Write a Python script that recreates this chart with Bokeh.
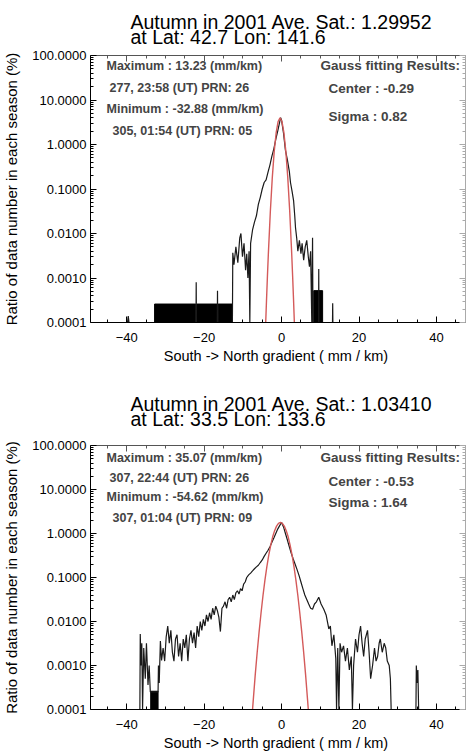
from bokeh.plotting import figure
from bokeh.layouts import column
from bokeh.models import (Range1d, FixedTicker, LinearAxis, LogAxis, Label, Title,
                          PrintfTickFormatter, CustomJSTickFormatter)
from bokeh.embed import file_html
from bokeh.resources import INLINE

FONT = "Liberation Sans"

# ---------------- data ----------------
x_ticks = [-40, -20, 0, 20, 40]
y_ticks = [0.0001, 0.001, 0.01, 0.1, 1.0, 10.0, 100.0]

# Panel 1 : Lat 42.7 Lon 141.6
p1_title = ["Autumn  in 2001  Ave. Sat.: 1.29952", "at  Lat:  42.7  Lon: 141.6"]
p1_info = ["Maximum : 13.23 (mm/km)", "277, 23:58 (UT) PRN: 26",
           "Minimum : -32.88 (mm/km)", "305, 01:54 (UT) PRN: 05"]
p1_gauss = ["Gauss fitting Results:", "Center : -0.29", "Sigma :  0.82"]
p1_x = [-49.4, -39.8, -39.6, -39.4, -32.9, -22.1, -22.05, -22.0, -16.6, -16.55, -16.5,
        -12.7, -12.6, -12.3, -11.8, -11.3, -10.8, -10.5, -10.1, -9.7, -9.3, -9.0, -8.7,
        -8.4, -8.2, -8.0, -7.5, -7.0, -6.5, -6.0, -5.5, -5.0, -4.5, -4.0, -3.5, -3.0,
        -2.5, -2.0, -1.5, -1.0, -0.5, -0.25, 0.0, 0.5, 1.0, 1.5, 2.0, 2.3, 2.7, 3.1,
        3.4, 3.6, 3.9, 4.2, 4.6, 5.0, 5.3, 5.7, 6.1, 6.5, 6.9, 7.2, 7.5, 7.8, 8.0, 8.1,
        9.55, 9.6, 9.65, 13.15, 13.2, 13.25, 47.5]
p1_y = [1e-4, 1e-4, 1.4e-4, 1e-4, 1e-4, 1e-4, 8e-4, 1e-4, 1e-4, 5.2e-4, 1e-4,
        1e-4, 3.7e-3, 2.0e-3, 5e-3, 2.2e-3, 8e-3, 1.0e-2, 3e-3, 6e-3, 1.5e-3, 3.5e-3, 1.0e-3,
        4e-3, 1e-4, 6e-3, 1.2e-2, 1.8e-2, 2.5e-2, 4.5e-2, 6.5e-2, 0.10, 0.14, 0.16, 0.24, 0.35,
        0.55, 0.8, 1.3, 2.0, 3.2, 4.0, 3.5, 1.8, 0.74, 0.45, 0.25, 0.14, 0.09, 0.055,
        0.025, 0.0135, 8e-3, 4e-3, 7e-3, 3.5e-3, 6e-3, 2.5e-3, 5e-3, 7e-3, 3e-3, 1.8e-3, 4e-3, 1e-4, 8e-3, 1e-4,
        1e-4, 1.6e-3, 1e-4, 1e-4, 2.7e-4, 1e-4, 1e-4]
p1_blk_left = [-32.8, -21.9, -16.4, 8.3]
p1_blk_right = [-22.15, -16.65, -12.7, 10.6]
p1_blk_top = [2.6e-4, 2.6e-4, 2.6e-4, 5.2e-4]
p1_fit_x = [-4.1, -3.9, -3.65, -3.4, -2.9, -2.4, -1.9, -1.4, -0.9, -0.4,
            0.1, 0.6, 1.1, 1.6, 2.1, 2.6, 2.85, 3.1, 3.3]
p1_fit_y = [1e-4, 3.05e-4, 1.12e-3, 3.77e-3, 0.0316, 0.18, 0.70, 1.84, 3.28, 3.98,
            3.28, 1.84, 0.70, 0.18, 0.0316, 3.77e-3, 1.12e-3, 3.05e-4, 1e-4]

# Panel 2 : Lat 33.5 Lon 133.6
p2_title = ["Autumn  in 2001  Ave. Sat.: 1.03410", "at  Lat:  33.5  Lon: 133.6"]
p2_info = ["Maximum : 35.07 (mm/km)", "307, 22:44 (UT) PRN: 26",
           "Minimum : -54.62 (mm/km)", "307, 01:04 (UT) PRN: 09"]
p2_gauss = ["Gauss fitting Results:", "Center : -0.53", "Sigma :  1.64"]
p2_x = [-49.4, -36.6, -36.5, -36.3, -36.1, -35.9, -35.6, -35.2, -34.9, -34.5, -34.2, -33.9,
        -31.9, -31.8, -31.6, -31.3, -31.0, -30.6, -30.2, -29.8, -29.4, -29.0, -28.6, -28.2,
        -27.8, -27.4, -27.0, -26.6, -26.2, -25.8, -25.4, -25.0, -24.6, -24.2, -23.8, -23.4,
        -23.0, -22.6, -22.2, -21.8, -21.4, -21.0, -20.6, -20.2, -19.8, -19.4, -19.0, -18.6,
        -18.2, -17.8, -17.4, -17.0, -16.6, -16.2, -15.8, -15.4, -15.0, -14.6, -14.2, -13.8,
        -13.4, -13.0, -12.6, -12.2, -11.8, -11.4, -11.0, -10.6, -10.2, -9.8, -9.4, -9.0,
        -8.5, -8.0, -7.5, -7.0, -6.5, -6.0, -5.5, -5.0, -4.5, -4.0, -3.5, -3.0, -2.5, -2.0,
        -1.5, -1.0, -0.5, 0.0, 0.5, 1.0, 1.5, 2.0, 2.5, 3.0, 3.5, 4.0, 4.5, 5.0, 5.5, 6.0,
        6.5, 7.0, 7.5, 8.0, 8.5, 9.0, 9.6, 10.2, 10.9, 11.5, 12.2, 12.6, 13.0, 13.5, 14.0,
        14.2, 14.5, 14.8, 15.1, 15.5, 16.0, 16.5, 17.0, 17.5, 18.0, 18.3, 18.6, 19.1, 19.6,
        20.0, 20.4, 20.8, 21.2, 21.6, 22.2, 22.6, 23.0, 23.5, 24.0, 24.4, 24.8, 25.2, 25.5,
        26.0, 26.5, 26.9, 27.3, 27.8, 28.1, 28.3, 34.7, 34.8, 35.0, 35.2, 35.4, 47.5]
p2_y = [1e-4, 1e-4, 5.2e-3, 1e-3, 3.2e-3, 1e-4, 2.5e-3, 5e-4, 3.2e-3, 3.6e-4, 1e-3, 2.5e-4,
        2.5e-4, 1e-3, 4e-4, 3.6e-3, 1.3e-3, 2.5e-3, 1.26e-3, 4.5e-3, 7.9e-3, 3.2e-3, 6.3e-3, 2e-3,
        1.26e-3, 4e-3, 5e-3, 1.6e-3, 3.2e-3, 1.26e-3, 4e-3, 2.5e-3, 5e-3, 1.26e-3, 4e-3, 6.3e-3,
        3.2e-3, 5.6e-3, 2.5e-3, 7.9e-3, 4.5e-3, 0.01, 6.3e-3, 0.0112, 7.9e-3, 0.0141, 0.01, 0.0158,
        0.0112, 0.02, 0.0141, 0.0224, 0.0178, 0.0126, 5.9e-3, 0.02, 0.0224, 0.028, 0.02, 0.0316,
        0.0355, 0.028, 0.04, 0.0316, 0.045, 0.05, 0.042, 0.056, 0.05, 0.071, 0.079, 0.1,
        0.115, 0.126, 0.141, 0.158, 0.174, 0.19, 0.219, 0.251, 0.302, 0.355, 0.417, 0.5, 0.63, 0.79,
        1.0, 1.26, 1.51, 1.78, 1.41, 1.0, 0.71, 0.5, 0.355, 0.263, 0.2, 0.151, 0.112, 0.079, 0.056, 0.04,
        0.0316, 0.025, 0.02, 0.019, 0.025, 0.028, 0.0355, 0.025, 0.019, 0.0141, 6.8e-3, 7.9e-3, 2.8e-3, 5e-3, 1.45e-3,
        1e-4, 2.5e-3, 1e-4, 3.2e-3, 2e-3, 2.8e-3, 1.26e-3, 2.5e-3, 7.9e-4, 1.6e-3, 1e-4, 1e-3, 4e-3, 2e-3,
        5e-3, 7.9e-3, 3.2e-3, 1.6e-3, 4e-3, 6.3e-3, 2e-3, 5e-4, 1e-3, 2.5e-3, 1.26e-3, 1.6e-3, 3.2e-3, 4e-3,
        2e-3, 3.2e-3, 2.5e-3, 1.26e-3, 1e-3, 5e-4, 1e-4, 1e-4, 1e-3, 4e-4, 7.9e-4, 1e-4, 1e-4]
p2_blk_left = [-33.8]
p2_blk_right = [-31.9]
p2_blk_top = [2.6e-4]
p2_fit_x = [-7.5, -7.3, -6.8, -6.3, -5.8, -5.3, -4.8, -4.3, -3.8, -3.3, -2.8, -2.3, -1.8, -1.3, -0.8, -0.3,
            0.2, 0.7, 1.2, 1.7, 2.2, 2.7, 3.2, 3.7, 4.2, 4.7, 5.2, 5.7, 6.2, 6.7, 6.9]
p2_fit_y = [1e-4, 1.7e-4, 6.2e-4, 0.002, 0.0059, 0.0158, 0.039, 0.087, 0.176, 0.325, 0.546, 0.84, 1.16, 1.47, 1.70, 1.78,
            1.70, 1.47, 1.16, 0.84, 0.546, 0.325, 0.176, 0.087, 0.039, 0.0158, 0.0059, 0.002, 6.2e-4, 1.7e-4, 1e-4]

y_label = "Ratio of data number in each season (%)"
x_label = "South -> North  gradient ( mm / km)"

y_minor = [m * 10.0 ** e for e in range(-4, 2) for m in range(2, 10)]
x_minor = [v for v in range(-45, 50, 5) if v not in x_ticks]


def style_axis(ax, labels=True, color="black"):
    ax.axis_line_color = color
    ax.major_tick_line_color = color
    ax.minor_tick_line_color = color
    ax.major_tick_in = 6
    ax.major_tick_out = 0
    ax.minor_tick_in = 3
    ax.minor_tick_out = 0
    ax.major_label_text_font = FONT
    ax.major_label_text_font_size = "13px" if labels else "0px"
    ax.major_label_text_color = "black"
    if not labels:
        ax.formatter = CustomJSTickFormatter(code="return ''")
        ax.major_label_standoff = 0


def make_panel(height, top, bottom, title, info, gauss, hx, hy, bl, br, bt, fx, fy,
               info_y, gauss_y, title_standoff):
    p = figure(width=467, height=height, y_axis_type="log", title=None,
               x_range=Range1d(-49.35, 47.5), y_range=Range1d(1e-4, 100),
               output_backend="svg", toolbar_location=None,
               min_border_left=90, min_border_right=2, min_border_top=top, min_border_bottom=bottom)
    p.outline_line_color = None
    p.xgrid.visible = False
    p.ygrid.visible = False
    p.background_fill_color = "white"
    p.border_fill_color = "white"

    p.xaxis.ticker = FixedTicker(ticks=x_ticks, minor_ticks=x_minor)
    p.yaxis.ticker = FixedTicker(ticks=y_ticks, minor_ticks=y_minor)
    p.yaxis.formatter = PrintfTickFormatter(format="%.4f")
    for ax in p.xaxis:
        style_axis(ax)
        ax.major_label_standoff = 10
        ax.major_label_text_line_height = 1.0
        ax.axis_label = x_label
        ax.axis_label_text_font = FONT
        ax.axis_label_text_font_size = "14.5px"
        ax.axis_label_text_font_style = "normal"
        ax.axis_label_text_color = "black"
        ax.axis_label_text_line_height = 1.0
        ax.axis_label_standoff = 3
    for ax in p.yaxis:
        style_axis(ax)
        ax.major_label_standoff = 4
        ax.axis_label = y_label
        ax.axis_label_text_font = FONT
        ax.axis_label_text_font_size = "15px"
        ax.axis_label_text_font_style = "normal"
        ax.axis_label_text_color = "black"
        ax.axis_label_text_line_height = 1.0
        ax.axis_label_standoff = 9

    top_ax = LinearAxis(ticker=FixedTicker(ticks=x_ticks, minor_ticks=x_minor))
    style_axis(top_ax, labels=False, color="#555555")
    p.add_layout(top_ax, "above")
    right_ax = LogAxis(ticker=FixedTicker(ticks=y_ticks, minor_ticks=y_minor))
    style_axis(right_ax, labels=False, color="#aaaaaa")
    p.add_layout(right_ax, "right")

    # two-line title, left aligned
    p.add_layout(Title(text=title[0] + "\n" + title[1], align="left", offset=40, standoff=title_standoff,
                       text_font=FONT, text_font_size="19.5px", text_font_style="normal",
                       text_color="black", text_line_height=0.72), "above")

    p.quad(left=bl, right=br, top=bt, bottom=[1e-4] * len(bl), fill_color="black", line_color="black")
    p.line(hx, hy, line_color="#1a1a1a", line_width=1.2)
    p.line(fx, fy, line_color="#d45a5a", line_width=1.4)

    xs = [16, 19, 16, 22]
    for t, xx, yy in zip(info, xs, info_y):
        p.add_layout(Label(x=xx, y=yy, x_units="screen", y_units="screen", text=t,
                           text_font=FONT, text_font_size="12.5px", text_font_style="bold",
                           text_baseline="middle", text_align="left"))
    gx = [230, 238, 238]
    for t, xx, yy in zip(gauss, gx, gauss_y):
        p.add_layout(Label(x=xx, y=yy, x_units="screen", y_units="screen", text=t,
                           text_font=FONT, text_font_size="13.5px", text_font_style="bold",
                           text_baseline="middle", text_align="left"))
    return p


p1 = make_panel(375, 55, 53, p1_title, p1_info, p1_gauss, p1_x, p1_y,
                p1_blk_left, p1_blk_right, p1_blk_top, p1_fit_x, p1_fit_y,
                [257, 235, 214, 192], [257, 234, 206], 14)
p2 = make_panel(378, 69, 41, p2_title, p2_info, p2_gauss, p2_x, p2_y,
                p2_blk_left, p2_blk_right, p2_blk_top, p2_fit_x, p2_fit_y,
                [252, 232, 213, 192], [252, 228, 207], 30)

layout = column(p1, p2, spacing=0)
open("out.html", "w").write(file_html(layout, INLINE))
